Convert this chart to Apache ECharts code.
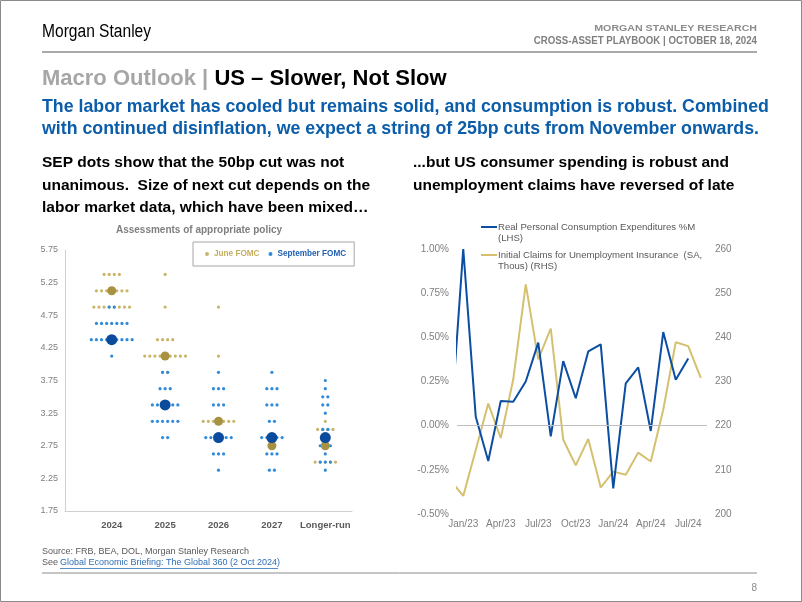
<!DOCTYPE html>
<html><head><meta charset="utf-8">
<script src="https://cdn.jsdelivr.net/npm/echarts@6/dist/echarts.min.js"></script>
<style>html,body{margin:0;padding:0;background:#fff}#c{width:802px;height:602px}</style>
</head><body><div id="c"></div>
<script>
// ---------- Left chart: FOMC dot plot ----------
const categories = ['2024', '2025', '2026', '2027', 'Longer-run'];
// [categoryIndex, rate, number of participants]
const juneDots = [
  [0, 5.375, 4], [0, 5.125, 7], [0, 4.875, 8],
  [1, 5.375, 1], [1, 4.875, 1], [1, 4.375, 4], [1, 4.125, 9], [1, 3.875, 2],
  [2, 4.875, 1], [2, 4.125, 1], [2, 3.125, 7],
  [4, 3.125, 1], [4, 3.0, 4], [4, 2.5, 5]
];
const septDots = [
  [0, 4.875, 2], [0, 4.625, 7], [0, 4.375, 9], [0, 4.125, 1],
  [1, 3.875, 2], [1, 3.625, 3], [1, 3.375, 6], [1, 3.125, 6], [1, 2.875, 2],
  [2, 3.875, 1], [2, 3.625, 3], [2, 3.375, 3], [2, 3.125, 2], [2, 2.875, 6], [2, 2.625, 3], [2, 2.375, 1],
  [3, 3.875, 1], [3, 3.625, 3], [3, 3.375, 3], [3, 3.125, 2], [3, 2.875, 5], [3, 2.625, 3], [3, 2.375, 2],
  [4, 3.75, 1], [4, 3.625, 1], [4, 3.5, 2], [4, 3.375, 2], [4, 3.25, 1], [4, 3.0, 2], [4, 2.875, 2],
  [4, 2.75, 3], [4, 2.625, 1], [4, 2.5, 3], [4, 2.375, 1]
];
const juneMedian = [5.125, 4.125, 3.125, 2.75, 2.75];
const septMedian = [4.375, 3.375, 2.875, 2.875, 2.875];

// ---------- Right chart: PCE vs claims ----------
const months = ['Dec/22','Jan/23','Feb/23','Mar/23','Apr/23','May/23','Jun/23','Jul/23','Aug/23','Sep/23','Oct/23','Nov/23','Dec/23',
  'Jan/24','Feb/24','Mar/24','Apr/24','May/24','Jun/24','Jul/24','Aug/24'];
const monthTickLabels = ['Jan/23', 'Apr/23', 'Jul/23', 'Oct/23', 'Jan/24', 'Apr/24', 'Jul/24'];
const pce = [0.00, 1.00, 0.05, -0.20, 0.14, 0.135, 0.25, 0.47, -0.06, 0.365, 0.155, 0.42, 0.46,
  -0.355, 0.24, 0.33, -0.03, 0.53, 0.26, 0.38, null];
const claims = [207.5, 204.1, 214.5, 225.0, 217.2, 230.5, 252.0, 235.0, 242.0, 216.8, 211.0, 217.0, 206.0,
  209.6, 208.9, 213.9, 211.9, 223.6, 238.9, 238.0, 230.8];

const FONT = 'Liberation Sans, Arial, sans-serif';
const GOLD = '#C9B467', GOLD_BIG = '#A89141', BLUE = '#2E8BDC', BLUE_BIG = '#0B4B9E';

function dotRenderer(color) {
  return function (params, api) {
    const c = api.coord([api.value(0), api.value(1)]);
    const n = api.value(2);
    const sp = 5.1;
    const children = [];
    for (let j = 0; j < n; j++) {
      children.push({ type: 'circle', shape: { cx: c[0] + (j - (n - 1) / 2) * sp, cy: c[1], r: 1.6 }, style: { fill: color } });
    }
    return { type: 'group', children };
  };
}
const near = (v, k) => Math.abs(v - k) < 1e-6;

function txt(x, y, text, o, sx) {
  o = o || {};
  const el = { type: 'text', x, y, silent: true, style: Object.assign({
    text, fontFamily: FONT, fontSize: 12, fill: '#000', align: 'left', verticalAlign: 'middle'
  }, o) };
  if (sx) el.scaleX = sx;
  return el;
}
function hline(x1, x2, y, color, w) {
  return { type: 'line', silent: true, shape: { x1, y1: y, x2, y2: y }, style: { stroke: color, lineWidth: w } };
}

const graphic = [
  { type: 'rect', silent: true, shape: { x: 0.5, y: 0.5, width: 801, height: 601 }, style: { fill: 'none', stroke: '#8A8A8A', lineWidth: 1 } },
  txt(42, 32, 'Morgan Stanley', { fontSize: 18 }, 0.865),
  txt(757, 29, 'MORGAN STANLEY RESEARCH', { align: 'right', fontSize: 8.5, fontWeight: 'bold', fill: '#8C8C8C' }, 1.25),
  txt(757, 41, 'CROSS-ASSET PLAYBOOK | OCTOBER 18, 2024', { align: 'right', fontSize: 11, fontWeight: 'bold', fill: '#7F7F7F' }, 0.88),
  hline(42, 757, 52, '#8C8C8C', 1.5),
  { type: 'text', x: 42, y: 79, silent: true, style: {
    text: '{a|Macro Outlook | }{b|US – Slower, Not Slow}', verticalAlign: 'middle',
    rich: { a: { fontFamily: FONT, fontSize: 22, fill: '#A6A6A6', fontWeight: 'bold' }, b: { fontFamily: FONT, fontSize: 22, fill: '#000', fontWeight: 'bold' } } } },
  txt(42, 107, 'The labor market has cooled but remains solid, and consumption is robust. Combined', { fontSize: 17.75, fontWeight: 'bold', fill: '#0B5DAA' }),
  txt(42, 129, 'with continued disinflation, we expect a string of 25bp cuts from November onwards.', { fontSize: 17.75, fontWeight: 'bold', fill: '#0B5DAA' }),
  txt(42, 163, 'SEP dots show that the 50bp cut was not', { fontSize: 15.5, fontWeight: 'bold' }),
  txt(42, 186, 'unanimous.  Size of next cut depends on the', { fontSize: 15.5, fontWeight: 'bold' }),
  txt(42, 208, 'labor market data, which have been mixed…', { fontSize: 15.5, fontWeight: 'bold' }),
  txt(413, 163, '...but US consumer spending is robust and', { fontSize: 15.5, fontWeight: 'bold' }),
  txt(413, 186, 'unemployment claims have reversed of late', { fontSize: 15.5, fontWeight: 'bold' }),
  txt(199, 230, 'Assessments of appropriate policy', { align: 'center', fontSize: 10, fontWeight: 'bold', fill: '#7F7F7F' }),
  // right chart legend
  hline(481, 497, 227, '#0B4EA2', 2),
  txt(498, 227, 'Real Personal Consumption Expenditures %M', { fontSize: 9.6, fill: '#595959' }),
  txt(498, 238.5, '(LHS)', { fontSize: 9.6, fill: '#595959' }),
  hline(481, 497, 255, '#D4C06F', 2),
  txt(498, 255, 'Initial Claims for Unemployment Insurance  (SA,', { fontSize: 9.6, fill: '#595959' }),
  txt(498, 266.5, 'Thous) (RHS)', { fontSize: 9.6, fill: '#595959' }),
  // footer
  txt(42, 552, 'Source: FRB, BEA, DOL, Morgan Stanley Research', { fontSize: 9, fill: '#595959' }),
  txt(42, 563, 'See ', { fontSize: 9, fill: '#595959' }),
  txt(60, 563, 'Global Economic Briefing: The Global 360 (2 Oct 2024)', { fontSize: 9, fill: '#2F6DB5' }),
  hline(60, 278, 568.5, '#2F6DB5', 0.8),
  hline(42, 757, 573, '#8C8C8C', 1),
  txt(757, 588, '8', { align: 'right', fontSize: 10, fill: '#8C8C8C' })
];

const option = {
  animation: false,
  backgroundColor: '#fff',
  textStyle: { fontFamily: FONT },
  graphic,
  legend: {
    left: 193, top: 242, orient: 'horizontal',
    itemWidth: 4, itemHeight: 4, itemGap: 9,
    borderColor: '#A6A6A6', borderWidth: 1, padding: [8, 8, 8, 12],
    textStyle: { fontSize: 8.2, fontWeight: 'bold', fontFamily: FONT },
    data: [
      { name: 'June FOMC', icon: 'circle', textStyle: { color: '#C4AE5E' } },
      { name: 'September FOMC', icon: 'circle', textStyle: { color: '#1F5FAF' } }
    ]
  },
  grid: [
    { left: 65, right: 450, top: 250, bottom: 91 },
    { left: 457, right: 95, top: 249, bottom: 88 }
  ],
  xAxis: [
    { type: 'value', gridIndex: 0, min: -0.875, max: 4.5, interval: 0.125,
      axisLine: { show: true, onZero: false, lineStyle: { color: '#D0D0D0' } }, axisTick: { show: false }, splitLine: { show: false },
      axisLabel: { margin: 9, color: '#595959', fontSize: 9.5, fontWeight: 'bold',
        formatter: v => { const r = Math.round(v); return (near(v, r) && r >= 0 && r < categories.length) ? categories[r] : ''; } } },
    { type: 'value', gridIndex: 1, min: -0.5, max: 19.5, interval: 0.5,
      axisLine: { show: false, onZero: false }, axisTick: { show: false }, splitLine: { show: false },
      axisLabel: { margin: 5, color: '#7F7F7F', fontSize: 10,
        formatter: v => { const r = Math.round(v); return (near(v, r) && r % 3 === 0 && r >= 0) ? monthTickLabels[r / 3] : ''; } } }
  ],
  yAxis: [
    { type: 'value', gridIndex: 0, min: 1.75, max: 5.75, interval: 0.25,
      axisLine: { show: true, onZero: false, lineStyle: { color: '#D0D0D0' } }, axisTick: { show: false }, splitLine: { show: false },
      axisLabel: { margin: 7, color: '#7F7F7F', fontSize: 9,
        formatter: v => (Math.round(v * 4) % 2 === 1) ? v.toFixed(2) : '' } },
    { type: 'value', gridIndex: 1, position: 'left', min: -0.5, max: 1.0, interval: 0.25,
      axisLine: { show: false, onZero: false }, axisTick: { show: false }, splitLine: { show: false },
      axisLabel: { margin: 8, color: '#7F7F7F', fontSize: 10, formatter: v => v.toFixed(2) + '%' } },
    { type: 'value', gridIndex: 1, position: 'right', min: 200, max: 260, interval: 10,
      axisLine: { show: false, onZero: false }, axisTick: { show: false }, splitLine: { show: false },
      axisLabel: { margin: 8, color: '#7F7F7F', fontSize: 10 } }
  ],
  series: [
    { name: 'June FOMC', type: 'custom', xAxisIndex: 0, yAxisIndex: 0, itemStyle: { color: GOLD },
      renderItem: dotRenderer(GOLD), data: juneDots, encode: { x: 0, y: 1 }, silent: true },
    { name: 'September FOMC', type: 'custom', xAxisIndex: 0, yAxisIndex: 0, itemStyle: { color: BLUE },
      renderItem: dotRenderer(BLUE), data: septDots, encode: { x: 0, y: 1 }, silent: true },
    { name: 'June FOMC', type: 'scatter', xAxisIndex: 0, yAxisIndex: 0, symbolSize: 9,
      itemStyle: { color: GOLD_BIG, opacity: 1 }, data: juneMedian.map((v, i) => [i, v]), silent: true },
    { name: 'September FOMC', type: 'scatter', xAxisIndex: 0, yAxisIndex: 0, symbolSize: 11,
      itemStyle: { color: BLUE_BIG, opacity: 1 }, data: septMedian.map((v, i) => [i, v]), silent: true },
    { name: 'Initial Claims', type: 'line', xAxisIndex: 1, yAxisIndex: 2, symbol: 'none',
      lineStyle: { color: '#D4C06F', width: 2 }, itemStyle: { color: '#D4C06F' },
      data: claims.map((v, i) => [i - 1, v]), silent: true },
    { name: 'Real PCE', type: 'line', xAxisIndex: 1, yAxisIndex: 1, symbol: 'none',
      lineStyle: { color: '#0B4EA2', width: 2 }, itemStyle: { color: '#0B4EA2' },
      data: pce.map((v, i) => [i - 1, v]), silent: true,
      markLine: { silent: true, symbol: 'none', label: { show: false }, lineStyle: { color: '#BFBFBF', width: 1, type: 'solid' },
        data: [{ yAxis: 0 }] } }
  ]
};
echarts.init(document.getElementById('c'), null, { renderer: 'canvas' }).setOption(option);
</script>
</body></html>
